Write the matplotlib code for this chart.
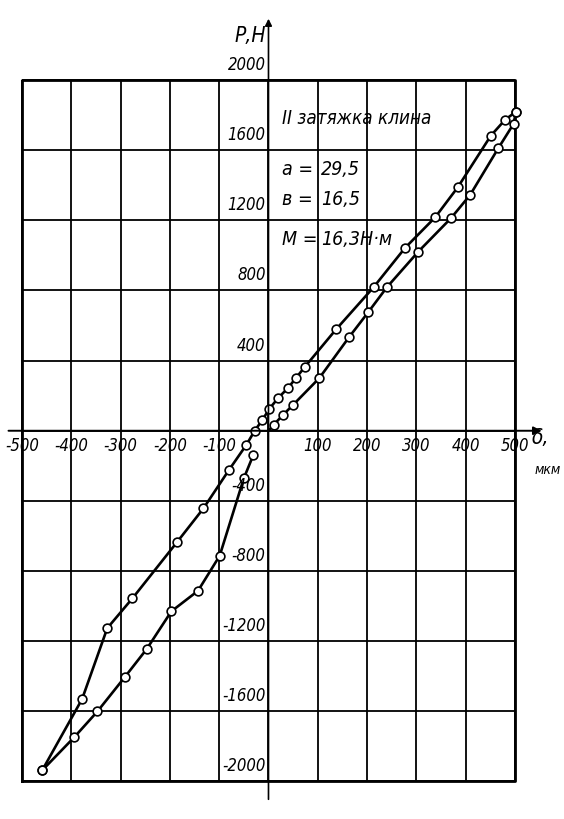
import matplotlib.pyplot as plt
import numpy as np

# Данные (δ в мкм, P в Н)

# нагружение от нуля (нижняя правая ветвь)
load_x = [0, 11, 30, 49, 103, 164, 202, 240, 304, 370, 409, 466, 497, 502]
load_y = [0, 35, 92, 145, 300, 536, 675, 818, 1022, 1212, 1345, 1611, 1750, 1820]

# разгрузка (верхняя ветвь, через ноль в отрицательную область)
unload_x = [502, 480, 451, 384, 338, 277, 213, 137, 74, 56, 40, 20, 2, -13, -28,
            -45, -80, -132, -186, -276, -327, -378, -459]
unload_y = [1820, 1774, 1683, 1389, 1217, 1043, 818, 578, 365, 302, 245, 188, 126,
            59, 0, -81, -223, -443, -637, -956, -1126, -1530, -1937]

# обратная ветвь в отрицательной области
back_x = [-459, -394, -347, -292, -247, -197, -143, -99, -50, -31]
back_y = [-1937, -1748, -1601, -1407, -1245, -1030, -913, -713, -271, -140]

# подписи осей
x_ticks = [-500, -400, -300, -200, -100, 100, 200, 300, 400, 500]
x_labels = ['-500', '-400', '-300', '-200', '-100', '100', '200', '300', '400', '500']
y_ticks = [2000, 1600, 1200, 800, 400, -400, -800, -1200, -1600, -2000]
y_labels = ['2000', '1600', '1200', '800', '400', '-400', '-800', '-1200', '-1600', '-2000']

# рукописный вид: узкий наклонный шрифт
hand = dict(family=['DejaVu Sans'], fontstretch='condensed', style='italic')

fig = plt.figure(figsize=(5.64, 8.2), dpi=100)
ax = fig.add_axes([0, 0, 1, 1])
ax.set_xlim(-544.6, 599.4)
ax.set_ylim(-2214.5, 2462.6)
ax.axis('off')

# сетка
ax.vlines(np.arange(-500, 501, 100), -2000, 2000, color='black', lw=1.3)
ax.hlines(np.arange(-2000, 2001, 400), -500, 500, color='black', lw=1.3)
ax.plot([-500, 500, 500, -500, -500], [-2000, -2000, 2000, 2000, -2000], color='black', lw=2)

# оси со стрелками
ax.annotate('', xy=(560, 0), xytext=(-533, 0),
            arrowprops=dict(arrowstyle='-|>', color='black', lw=1.4, mutation_scale=12))
ax.annotate('', xy=(0, 2366), xytext=(0, -2118),
            arrowprops=dict(arrowstyle='-|>', color='black', lw=1.2, mutation_scale=10))

# кривые
ax.plot(load_x, load_y, '-o', color='black', lw=1.9, ms=6.3, mfc='white', mec='black',
        mew=1.2, markevery=list(range(1, len(load_x))))
ax.plot(unload_x, unload_y, '-o', color='black', lw=1.9, ms=6.3, mfc='white', mec='black', mew=1.2)
ax.plot(back_x, back_y, '-o', color='black', lw=1.9, ms=6.3, mfc='white', mec='black', mew=1.2)

# подписи делений
for xv, lab in zip(x_ticks, x_labels):
    ax.text(xv, -82, lab, ha='center', va='center', fontsize=12, **hand)
for yv, lab in zip(y_ticks, y_labels):
    ax.text(-6, yv + 40, lab, ha='right', va='bottom', fontsize=12, **hand)

ax.text(-6, 2260, 'Р,Н', ha='right', va='center', fontsize=15, **hand)
ax.text(535, -35, 'δ,', ha='left', va='center', fontsize=15, **hand)
ax.text(540, -220, 'мкм', ha='left', va='center', fontsize=10, **hand)

# пояснения
ax.text(27, 1784, 'II затяжка клина', ha='left', va='center', fontsize=13.5, **hand)
ax.text(27, 1493, 'а =', ha='left', va='center', fontsize=14, **hand)
ax.text(107, 1493, '29,5', ha='left', va='center', fontsize=14, **hand)
ax.text(27, 1322, 'в =', ha='left', va='center', fontsize=14, **hand)
ax.text(107, 1322, '16,5', ha='left', va='center', fontsize=14, **hand)
ax.text(27, 1094, 'М =', ha='left', va='center', fontsize=14, **hand)
ax.text(107, 1094, '16,3Н·м', ha='left', va='center', fontsize=14, **hand)

plt.savefig('out.png', dpi=100)
